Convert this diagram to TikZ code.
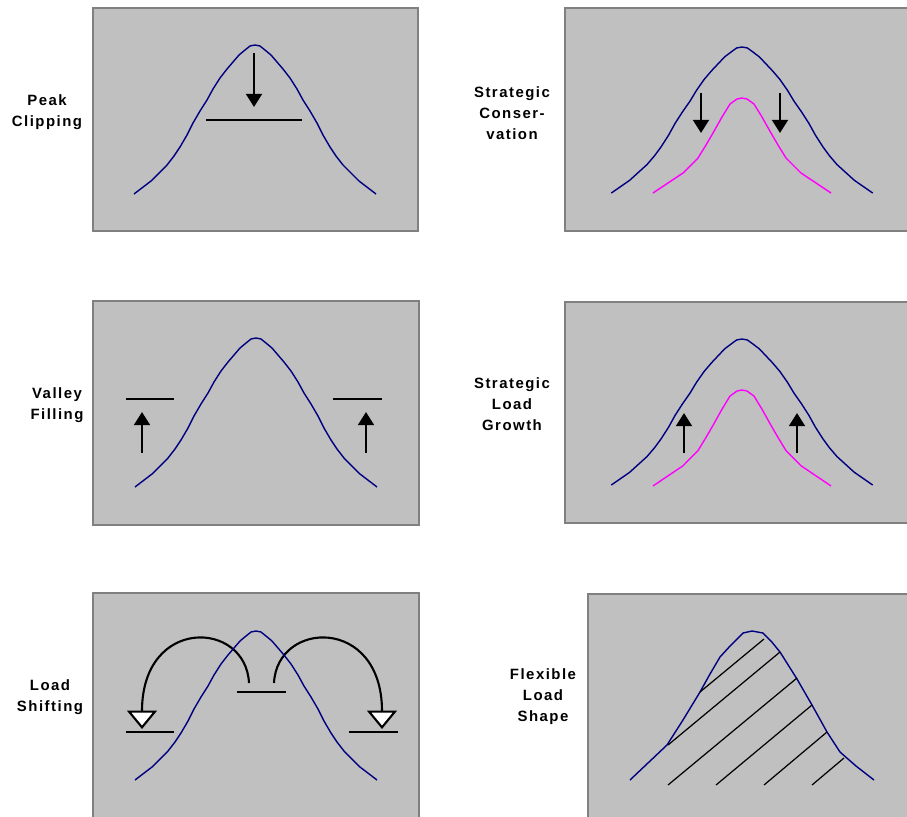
\documentclass[tikz,border=0pt]{standalone}
\usepackage{fontspec}
\newfontfamily\labelfont[LetterSpace=10]{Liberation Sans}
\usetikzlibrary{arrows.meta}
\definecolor{panelgray}{HTML}{C0C0C0}
\definecolor{framegray}{HTML}{808080}
\definecolor{loadblue}{HTML}{000080}
\definecolor{loadpink}{HTML}{FF00FF}
\tikzset{
    bell/.pic={\draw[curve] plot coordinates {(-121,149) (-104,136) (-88,120) (-81,111) (-75,102) (-68,90) (-62,78) (-55,66) (-48,55) (-42,44) (-35,33) (-28,24) (-22,17) (-16,10) (-10,5) (-5,1) (0,0) (5,1) (10,5) (16,10) (22,17) (28,24) (35,33) (42,44) (48,55) (55,66) (62,78) (68,90) (75,102) (81,111) (88,120) (104,136) (121,149)};},
    narrowbell/.pic={\draw[newcurve] plot coordinates {(-89,95) (-59,75) (-44,60) (-36,47) (-29,35) (-20,19) (-12,6) (-5,1) (0,0) (5,1) (12,6) (20,19) (29,35) (36,47) (44,60) (59,75) (89,95)};}
}

\begin{document}
\begin{tikzpicture}[
    x=0.02cm, y=-0.02cm,
    panel/.style={draw=framegray, line width=0.9pt, fill=panelgray},
    curve/.style={loadblue, line width=0.8pt, line join=round},
    newcurve/.style={loadpink, line width=0.8pt, line join=round},
    level/.style={black, line width=0.8pt},
    push/.style={-{Triangle[width=9pt,length=7.5pt]}, line width=1.5pt},
    hop/.style={-{Triangle[open,fill=white,width=17pt,length=10.5pt]}, line width=1.2pt},
    hatch/.style={black, line width=0.7pt},
    lbl/.style={font=\labelfont\bfseries\fontsize{8.5}{12}\selectfont, align=center}
]
\useasboundingbox (0,0) rectangle (907,816);
\clip (0,0) rectangle (907,816);

% Panels
\draw[panel] (93,8) rectangle (418,231);
\draw[panel] (565,8) rectangle (920,231);
\draw[panel] (93,301) rectangle (419,525);
\draw[panel] (565,302) rectangle (920,523);
\draw[panel] (93,593) rectangle (419,830);
\draw[panel] (588,594) rectangle (920,830);

% Labels
\node[lbl] (peak) at (47,112) {Peak\\Clipping};
\node[lbl] (cons) at (512,113) {Strategic\\Conser-\\vation};
\node[lbl] (valley) at (57,405) {Valley\\Filling};
\node[lbl] (growth) at (512,404) {Strategic\\Load\\Growth};
\node[lbl] (shift) at (50,697) {Load\\Shifting};
\node[lbl] (flex) at (543,697) {Flexible\\Load\\Shape};

% Peak Clipping
\pic at (255,45) {bell};
\draw[level] (206,120) -- (302,120);
\draw[push] (254,53) -- (254,107);

% Strategic Conservation
\pic[xscale=1.08, yscale=0.98] at (742,47) {bell};
\pic at (742,98) {narrowbell};
\draw[push] (701,93) -- (701,133);
\draw[push] (780,93) -- (780,133);

% Valley Filling
\pic at (256,338) {bell};
\draw[level] (126,399) -- (174,399);
\draw[level] (333,399) -- (382,399);
\draw[push] (142,453) -- (142,412);
\draw[push] (366,453) -- (366,412);

% Strategic Load Growth
\pic[xscale=1.08, yscale=0.98] at (742,339) {bell};
\pic[yscale=1.01] at (742,390) {narrowbell};
\draw[push] (684,453) -- (684,413);
\draw[push] (797,453) -- (797,413);

% Load Shifting
\draw[level] (237,692) -- (286,692);
\draw[level] (126,732) -- (174,732);
\draw[level] (349,732) -- (398,732);
\draw[hop] (249,683) .. controls (246,620) and (142,616) .. (142,729);
\draw[hop] (274,683) .. controls (277,620) and (382,616) .. (382,729);
\pic at (256,631) {bell};

% Flexible Load Shape
\draw[curve] plot coordinates {(630,780) (667,745) (683,720) (700,692) (710,674) (720,657) (731,645) (743,633) (752,631) (763,633) (771,641) (780,652) (797,679) (812,705) (827,732) (840,752) (856,766) (874,780)};
\draw[hatch] (700,692) -- (764,639);
\draw[hatch] (668,745) -- (780,652);
\draw[hatch] (668,785) -- (797,678);
\draw[hatch] (716,785) -- (812,705);
\draw[hatch] (764,785) -- (827,732);
\draw[hatch] (812,785) -- (844,758);

\end{tikzpicture}
\end{document}
